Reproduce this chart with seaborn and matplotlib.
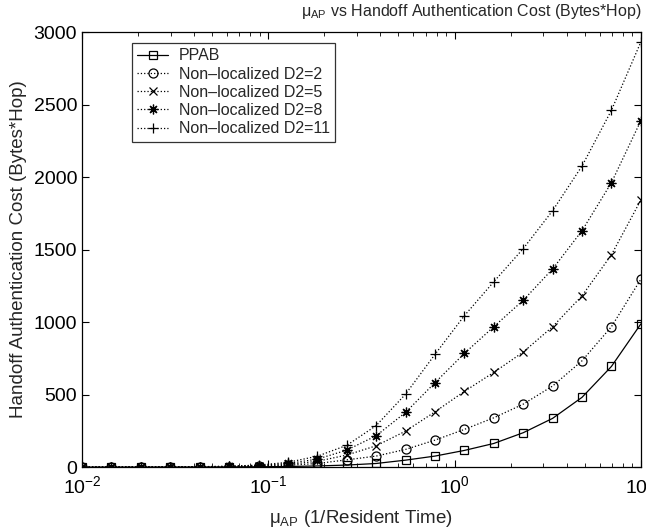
import numpy as np
import pandas as pd
import matplotlib
matplotlib.use("Agg")
import matplotlib.pyplot as plt
import seaborn as sns

# mu_AP values (1/resident time), 20 points from 0.01 to 10
mu = [0.01, 0.014384, 0.020691, 0.029764, 0.042813, 0.061585, 0.088587,
      0.12743, 0.18330, 0.26367, 0.37927, 0.54556, 0.78476, 1.12884,
      1.62378, 2.33572, 3.35982, 4.83293, 6.95193, 10.0]

ppab = [0.2, 0.3, 0.4, 0.6, 0.9, 1.5, 2.5, 4, 8, 14,
        25, 48, 76, 115, 163, 237, 336, 481, 694, 987]
d2_2 = [0.3, 0.4, 0.6, 0.9, 1.5, 3, 6, 12, 25, 50,
        76, 122, 186, 260, 340, 434, 559, 733, 968, 1295]
d2_5 = [0.4, 0.6, 0.9, 1.3, 2, 4, 8, 18, 40, 83,
        147, 248, 381, 522, 653, 793, 968, 1181, 1464, 1841]
d2_8 = [0.5, 0.7, 1, 1.5, 2.5, 5, 11, 25, 55, 117,
        216, 377, 582, 784, 968, 1150, 1366, 1630, 1961, 2388]
d2_11 = [0.6, 0.8, 1.2, 1.8, 3, 6, 14, 33, 75, 150,
         286, 503, 777, 1044, 1278, 1506, 1768, 2076, 2460, 2931]

labels = ["PPAB", "Non\u2013localized D2=2", "Non\u2013localized D2=5",
          "Non\u2013localized D2=8", "Non\u2013localized D2=11"]
series = [ppab, d2_2, d2_5, d2_8, d2_11]
markers = ["s", "o", "x", (8, 2, 0), "+"]
sizes = [5.5, 6.5, 5.8, 7, 7]
styles = ["-", ":", ":", ":", ":"]

sns.set_style("ticks")
plt.rcParams["font.family"] = ["Liberation Sans", "DejaVu Sans"]
plt.rcParams["mathtext.fontset"] = "custom"
plt.rcParams["mathtext.rm"] = "Liberation Sans"
plt.rcParams["mathtext.it"] = "Liberation Sans:italic"
plt.rcParams["mathtext.bf"] = "Liberation Sans:bold"

fig = plt.figure(figsize=(6.46, 5.29), dpi=100)
ax = fig.add_axes([0.127, 0.117, 0.865, 0.8225])

for lab, vals, m, ms, ls in zip(labels, series, markers, sizes, styles):
    df = pd.DataFrame({"mu": mu, "cost": vals})
    sns.lineplot(data=df, x="mu", y="cost", ax=ax, color="k", marker=m,
                 linestyle=ls, linewidth=0.9, markersize=ms,
                 markerfacecolor="none", markeredgecolor="k",
                 markeredgewidth=0.9, label=lab)

ax.set_xscale("log")
ax.set_xlim(0.01, 10)
ax.set_ylim(0, 3000)
ax.set_yticks([0, 500, 1000, 1500, 2000, 2500, 3000])

ax.tick_params(which="both", direction="in", top=True, right=True,
               labelsize=14, colors="k")
ax.tick_params(axis="x", pad=6)
ax.tick_params(which="major", length=5, width=0.8)
ax.tick_params(which="minor", length=3, width=0.6)
for s in ax.spines.values():
    s.set_color("k")
    s.set_linewidth(0.9)

ax.set_xlabel(r"$\mathregular{\mu_{AP}}$ (1/Resident Time)", fontsize=13.5, labelpad=8)
ax.set_ylabel("Handoff Authentication Cost (Bytes*Hop)", fontsize=13.5, labelpad=5)

fig.text(0.729, 0.979, r"$\mathregular{\mu_{AP}}$ vs Handoff Authentication Cost (Bytes*Hop)",
         ha="center", va="center", fontsize=11.5)

leg = ax.legend(loc="upper left", bbox_to_anchor=(0.089, 0.975), borderaxespad=0,
                fontsize=11.5, frameon=True, fancybox=False, edgecolor="k",
                handlelength=1.9, handletextpad=0.7, labelspacing=0.2,
                borderpad=0.35)
leg.get_frame().set_linewidth(0.9)

fig.savefig("out.png", dpi=100)
